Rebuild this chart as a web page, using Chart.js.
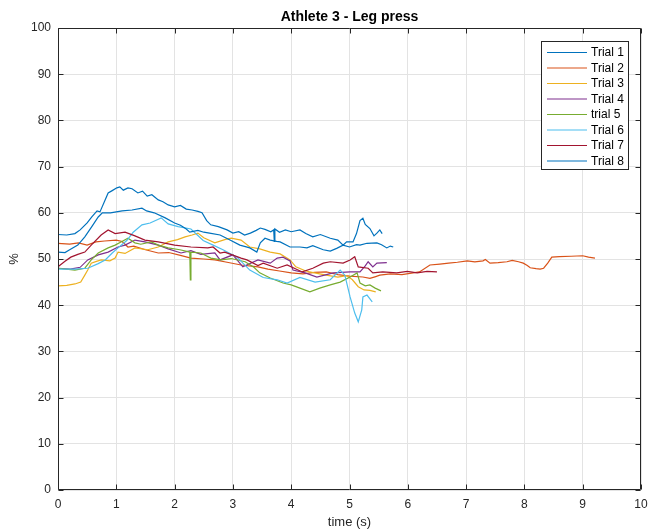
<!DOCTYPE html>
<html>
<head>
<meta charset="utf-8">
<script src="https://cdn.jsdelivr.net/npm/chart.js@4/dist/chart.umd.min.js"></script>
<style>
  html, body { margin: 0; padding: 0; background: #ffffff; }
  #wrap { width: 649px; height: 531px; position: relative; }
</style>
</head>
<body>
<div id="wrap"><canvas id="c" width="649" height="531"></canvas></div>
<script>
// ---- Data (time in s, value in %) ----
const chartTitle = 'Athlete 3 - Leg press';
const seriesLabels = ['Trial 1', 'Trial 2', 'Trial 3', 'Trial 4', 'trial 5', 'Trial 6', 'Trial 7', 'Trial 8'];
const seriesColors = ['#0072BD', '#D95319', '#EDB120', '#7E2F8E', '#77AC30', '#4DBEEE', '#A2142F', '#0072BD'];
const xTicks = [0, 1, 2, 3, 4, 5, 6, 7, 8, 9, 10];
const yTicks = [0, 10, 20, 30, 40, 50, 60, 70, 80, 90, 100];

const trial1 = [[0,55.3],[0.15,55.2],[0.29,55.5],[0.38,56.3],[0.5,57.8],[0.58,59.1],[0.67,60.4],[0.72,60.2],[0.81,62.8],[0.86,64.3],[0.93,64.8],[1.01,65.4],[1.06,65.6],[1.12,64.9],[1.2,65.4],[1.27,65.2],[1.37,64.3],[1.45,64.7],[1.53,63.6],[1.61,63.9],[1.72,62.8],[1.8,62.4],[1.89,61.7],[2.0,61.3],[2.1,61.6],[2.2,60.8],[2.3,60.6],[2.4,60.3],[2.47,60],[2.55,58.3],[2.62,57.4],[2.75,57],[2.9,56.3],[3.0,55.6],[3.1,55.9],[3.2,55.2],[3.3,55.6],[3.4,56.2],[3.47,56.7],[3.55,56.4],[3.65,55.9],[3.7,56.3],[3.71,53.8],[3.72,56.5],[3.8,55.8],[3.9,56.3],[4.0,55.9],[4.15,56.3],[4.25,55.5],[4.37,54.8],[4.5,55.3],[4.67,54.5],[4.8,54.1],[4.89,53],[4.95,53.7],[5.06,53.7],[5.12,55.5],[5.18,58.3],[5.23,58.8],[5.27,57.5],[5.35,56.6],[5.42,55],[5.47,55.6],[5.52,56.3],[5.56,55.5]];
const trial2 = [[0,53.4],[0.2,53.2],[0.35,53.5],[0.5,53],[0.65,53.7],[0.8,53.9],[1.0,54.1],[1.1,53.8],[1.2,52.6],[1.3,52.8],[1.5,52],[1.72,51.3],[1.9,51.4],[2.1,50.8],[2.28,50.2],[2.5,50],[2.69,49.8],[2.9,49.3],[3.14,48.7],[3.43,48.3],[3.6,47.8],[3.8,47.4],[4.0,47],[4.2,46.8],[4.4,47.1],[4.6,47.2],[4.8,46.6],[5.0,46.3],[5.23,46.1],[5.35,45.8],[5.45,46.2],[5.52,46.5],[5.7,46.8],[5.9,46.6],[6.09,47],[6.2,47.2],[6.38,48.7],[6.55,48.9],[6.7,49.1],[6.85,49.3],[7.02,49.6],[7.15,49.4],[7.29,49.6],[7.33,49.9],[7.41,49.1],[7.55,49.2],[7.7,49.4],[7.79,49.7],[7.9,49.4],[7.98,49.1],[8.05,48.6],[8.1,48.1],[8.2,47.9],[8.27,47.8],[8.33,48],[8.4,49.1],[8.47,50.4],[8.6,50.5],[8.8,50.6],[9.0,50.7],[9.1,50.4],[9.21,50.2]];
const trial3 = [[0,44.2],[0.15,44.3],[0.29,44.6],[0.39,45],[0.46,46.5],[0.51,47.6],[0.57,49.1],[0.66,49.5],[0.74,49.8],[0.89,49.6],[0.98,50.2],[1.03,51.5],[1.15,51.2],[1.32,52.4],[1.54,52],[1.72,52.6],[1.89,53.7],[2.05,54.2],[2.18,54.8],[2.3,55.2],[2.4,55.6],[2.5,54.6],[2.69,53.5],[2.86,54.2],[2.97,54.5],[3.14,54.1],[3.29,52.6],[3.46,52.2],[3.64,51.5],[3.81,51.1],[3.98,49.8],[4.08,48.3],[4.25,47.4],[4.4,47],[4.6,46.5],[4.8,46.1],[4.95,46.4],[5.05,45.5],[5.15,44],[5.25,43.3],[5.35,43.2],[5.45,42.9]];
const trial4 = [[0,48],[0.21,47.8],[0.38,48.2],[0.51,49.8],[0.69,50.9],[0.86,51.5],[1.03,52.6],[1.15,53],[1.32,54.1],[1.49,53.7],[1.72,53],[1.89,52.2],[2.11,51.3],[2.28,51.8],[2.45,51],[2.69,51.3],[2.78,49.8],[3.0,50.9],[3.17,48.3],[3.43,49.8],[3.64,49.1],[3.76,50.2],[3.86,50.4],[3.98,49.6],[4.03,47.6],[4.24,47],[4.44,46.1],[4.72,47],[5.01,47.2],[5.18,47.2],[5.27,48.5],[5.32,49.4],[5.4,48.3],[5.47,49.1],[5.64,49.2]];
const trial5 = [[0,48],[0.29,47.6],[0.46,48],[0.57,49.8],[0.69,51.3],[0.86,52.4],[0.98,53],[1.08,53.7],[1.2,54.5],[1.32,53.5],[1.42,53.2],[1.6,53.7],[1.72,53],[1.89,52.4],[2.09,52],[2.26,51.5],[2.27,45.5],[2.28,51.5],[2.45,51.3],[2.62,50.2],[2.8,49.8],[2.97,50.1],[3.21,49.4],[3.36,48.2],[3.46,47],[3.64,45.9],[3.86,44.8],[4.0,44.4],[4.15,43.7],[4.32,42.9],[4.49,43.7],[4.67,44.4],[4.84,45],[5.01,46.1],[5.13,47],[5.18,44.8],[5.27,44.2],[5.35,44.4],[5.44,43.7],[5.54,43.1]];
const trial6 = [[0,47.8],[0.29,47.8],[0.51,48],[0.69,49],[0.81,49.8],[0.93,51.3],[1.03,52.4],[1.18,54],[1.29,55.8],[1.44,57.4],[1.58,57.8],[1.77,58.9],[1.89,57.6],[2.06,57],[2.28,56.5],[2.49,54],[2.66,53],[2.83,52],[3.07,50.4],[3.29,47.6],[3.52,46],[3.76,45.5],[3.93,44.8],[4.15,46],[4.41,45],[4.67,45.5],[4.84,47.6],[4.92,46.5],[5.01,41.8],[5.09,38.3],[5.15,36.4],[5.21,39],[5.23,41.8],[5.3,42.2],[5.39,40.7]];
const trial7 = [[0,48.3],[0.12,49.5],[0.22,50.4],[0.34,51],[0.46,51.5],[0.57,53],[0.74,55.2],[0.86,56.3],[0.98,55.5],[1.15,55.8],[1.32,55],[1.49,54.1],[1.72,53.7],[2.0,53],[2.28,52.6],[2.57,52.4],[2.66,52.6],[2.78,51.3],[2.86,51.5],[3.14,50.2],[3.24,49.8],[3.43,48.6],[3.52,49.1],[3.76,48],[3.93,48.7],[4.19,47.2],[4.37,48],[4.55,49.1],[4.67,49.4],[4.89,49.1],[5.01,49.8],[5.09,50.5],[5.15,48.3],[5.32,48],[5.4,47],[5.57,47.2],[5.81,47],[5.99,47.3],[6.16,47],[6.33,47.3],[6.5,47.2]];
const trial8 = [[0,51.5],[0.12,51.4],[0.2,52],[0.34,53],[0.46,54.8],[0.58,57],[0.69,59.1],[0.76,60],[0.9,60],[1.0,60.2],[1.1,60.4],[1.27,60.6],[1.44,61],[1.52,60.4],[1.65,60],[1.84,58.9],[2.0,57.8],[2.1,57.3],[2.2,56.5],[2.26,55.8],[2.4,56.2],[2.5,55.8],[2.6,55.6],[2.78,55.2],[2.95,54.1],[3.12,53],[3.29,52.4],[3.41,51.5],[3.47,53.5],[3.55,54.5],[3.64,54.1],[3.75,53.8],[3.81,53.7],[3.98,52.6],[4.15,52.6],[4.27,52.4],[4.37,52.9],[4.55,52],[4.67,51.7],[4.78,52.3],[4.89,53],[5.0,52.6],[5.12,53.1],[5.18,53],[5.3,53.4],[5.47,53.5],[5.55,53.1],[5.64,52.4],[5.7,52.8],[5.75,52.6]];

const allTrials = [trial1, trial2, trial3, trial4, trial5, trial6, trial7, trial8];

const FONT = "'Liberation Sans', Arial, Helvetica, sans-serif";
const AXIS_COLOR = '#262626';

const datasets = allTrials.map((tr, i) => ({
  label: seriesLabels[i],
  data: tr.map(p => ({ x: p[0], y: p[1] })),
  borderColor: seriesColors[i],
  backgroundColor: seriesColors[i],
  borderWidth: 1.2,
  pointRadius: 0,
  tension: 0,
  fill: false,
  order: allTrials.length - i
}));

const framePlugin = {
  id: 'frameTicksLegend',
  afterDraw(chart) {
    const ctx = chart.ctx;
    const a = chart.chartArea;
    const xs = chart.scales.x, ys = chart.scales.y;
    ctx.save();
    // title centred over the plot area
    ctx.fillStyle = '#000000';
    ctx.font = 'bold 14px ' + FONT;
    ctx.textAlign = 'center';
    ctx.textBaseline = 'middle';
    ctx.fillText(chartTitle, (a.left + a.right) / 2, 17);

    ctx.strokeStyle = AXIS_COLOR;
    ctx.lineWidth = 1;
    const L = Math.round(a.left) + 0.5, R = Math.round(a.right) - 0.5;
    const T = Math.round(a.top) + 0.5, B = Math.round(a.bottom) - 0.5;
    ctx.beginPath();
    ctx.rect(L, T, R - L, B - T);
    ctx.stroke();
    // inward ticks
    ctx.beginPath();
    xTicks.forEach(v => {
      const px = Math.round(xs.getPixelForValue(v)) + 0.5;
      ctx.moveTo(px, B); ctx.lineTo(px, B - 5);
      ctx.moveTo(px, T); ctx.lineTo(px, T + 5);
    });
    yTicks.forEach(v => {
      const py = Math.round(ys.getPixelForValue(v)) + 0.5;
      ctx.moveTo(L, py); ctx.lineTo(L + 5, py);
      ctx.moveTo(R, py); ctx.lineTo(R - 5, py);
    });
    ctx.stroke();
    // legend box
    const bx = 541.5, by = 41.5, bw = 87, bh = 128;
    ctx.fillStyle = '#ffffff';
    ctx.fillRect(bx, by, bw, bh);
    ctx.strokeStyle = AXIS_COLOR;
    ctx.strokeRect(bx, by, bw, bh);
    ctx.font = '12px ' + FONT;
    ctx.textBaseline = 'middle';
    ctx.textAlign = 'left';
    chart.data.datasets.forEach((ds, i) => {
      const y = 52.5 + i * 15.5;
      ctx.strokeStyle = ds.borderColor;
      ctx.lineWidth = 1.2;
      ctx.beginPath();
      ctx.moveTo(547, y); ctx.lineTo(587, y);
      ctx.stroke();
      ctx.fillStyle = '#000000';
      ctx.fillText(ds.label, 591, y + 0.5);
    });
    ctx.restore();
  }
};

new Chart(document.getElementById('c'), {
  type: 'line',
  data: { datasets },
  plugins: [framePlugin],
  options: {
    responsive: false,
    animation: false,
    layout: { padding: { left: 0, right: 8, top: 28, bottom: 0 } },
    plugins: {
      legend: { display: false },
      tooltip: { enabled: false },
      title: { display: false }
    },
    scales: {
      x: {
        type: 'linear',
        min: 0, max: 10,
        afterBuildTicks: s => { s.ticks = xTicks.map(v => ({ value: v })); },
        afterFit: s => { s.height = 41; s.paddingLeft = 0; s.paddingRight = 0; },
        ticks: { color: AXIS_COLOR, font: { family: FONT, size: 12 }, padding: 7, maxRotation: 0, autoSkip: false },
        grid: { color: '#e3e3e3', lineWidth: 1, drawTicks: false },
        border: { display: false },
        title: { display: true, text: 'time (s)', color: AXIS_COLOR, font: { family: FONT, size: 13 }, padding: { top: 0, bottom: 0.5 } }
      },
      y: {
        type: 'linear',
        min: 0, max: 100,
        afterBuildTicks: s => { s.ticks = yTicks.map(v => ({ value: v })); },
        afterFit: s => { s.width = 58; s.paddingTop = 0; s.paddingBottom = 0; },
        ticks: { color: AXIS_COLOR, font: { family: FONT, size: 12 }, padding: 7, autoSkip: false },
        grid: { color: '#e3e3e3', lineWidth: 1, drawTicks: false },
        border: { display: false },
        title: { display: true, text: '%', color: AXIS_COLOR, font: { family: FONT, size: 13 }, padding: { top: 7, bottom: 0 } }
      }
    }
  }
});
</script>
</body>
</html>
